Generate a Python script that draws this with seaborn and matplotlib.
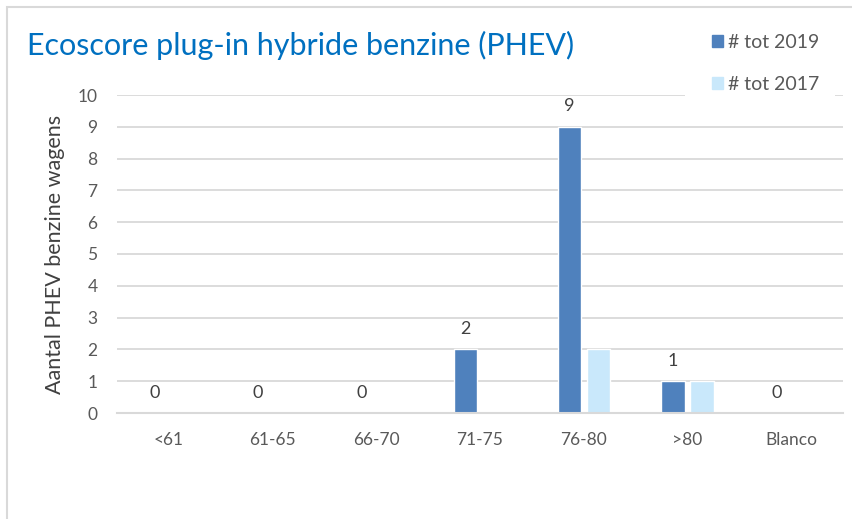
import matplotlib
matplotlib.use("Agg")
import matplotlib.pyplot as plt
import pandas as pd
import seaborn as sns
from matplotlib.patches import Rectangle

# data
categories = ["<61", "61-65", "66-70", "71-75", "76-80", ">80", "Blanco"]
tot_2019 = [0, 0, 0, 2, 9, 1, 0]
tot_2017 = [0, 0, 0, 0, 2, 1, 0]
series_names = ["# tot 2019", "# tot 2017"]
colors = ["#4F81BD", "#C9E8FB"]

df = pd.DataFrame({
    "categorie": categories * 2,
    "reeks": [series_names[0]] * len(categories) + [series_names[1]] * len(categories),
    "aantal": tot_2019 + tot_2017,
})

sns.set_theme(style="white")
plt.rcParams["font.family"] = ["Lato", "DejaVu Sans"]

W, H = 852, 519
fig = plt.figure(figsize=(W / 100, H / 100), dpi=100)
ax = fig.add_axes([117 / W, 1 - 413 / H, (843 - 117) / W, (413 - 95) / H])

sns.barplot(
    data=df, x="categorie", y="aantal", hue="reeks", order=categories,
    hue_order=series_names, palette=colors, width=0.56, gap=0.2,
    saturation=1, ax=ax, legend=False,
)

ax.set_ylim(0, 10)
ax.set_xlim(-0.5, len(categories) - 0.5)
ax.set_yticks(range(0, 11))
ax.yaxis.grid(True, color="#D9D9D9", lw=1.3)
ax.set_axisbelow(True)
for side in ["left", "right", "top"]:
    ax.spines[side].set_visible(False)
ax.spines["bottom"].set_color("#D9D9D9")
ax.spines["bottom"].set_linewidth(1.5)
ax.tick_params(axis="both", length=0, labelsize=12.5, labelcolor="#595959")
ax.tick_params(axis="y", pad=14)
ax.tick_params(axis="x", pad=14)
ax.set_xlabel("")
ax.set_ylabel("Aantal PHEV benzine wagens", fontsize=15.5, color="#404040")
ax.yaxis.set_label_coords(-0.072, 0.5)

# value labels only on the 2019 bars
ax.bar_label(ax.containers[0], labels=[str(v) for v in tot_2019],
             padding=9, fontsize=13, color="#404040")

# chart frame and the white box behind the legend
fig.add_artist(Rectangle((7 / W, -0.1), 1.2, 1 - 7 / H + 0.1,
                         transform=fig.transFigure, fill=False,
                         edgecolor="#D9D9D9", lw=1.5))
fig.add_artist(Rectangle((685 / W, 1 - 98 / H), (835 - 685) / W, 88 / H,
                         transform=fig.transFigure, facecolor="white",
                         edgecolor="none", zorder=2))

fig.text(27 / W, 1 - 45 / H, "Ecoscore plug-in hybride benzine (PHEV)",
         fontsize=22, color="#0070C0", va="center", ha="left")

handles = [Rectangle((0, 0), 1, 1, color=c) for c in colors]
leg = fig.legend(handles, series_names, loc="upper left",
                 bbox_to_anchor=(712 / W, 1 - 34 / H), frameon=False,
                 fontsize=14, labelspacing=1.27, handlelength=0.55,
                 handleheight=0.55, handletextpad=0.25, borderpad=0,
                 borderaxespad=0)
leg.set_zorder(3)
for t in leg.get_texts():
    t.set_color("#595959")

fig.savefig("out.png", dpi=100, facecolor="white")
